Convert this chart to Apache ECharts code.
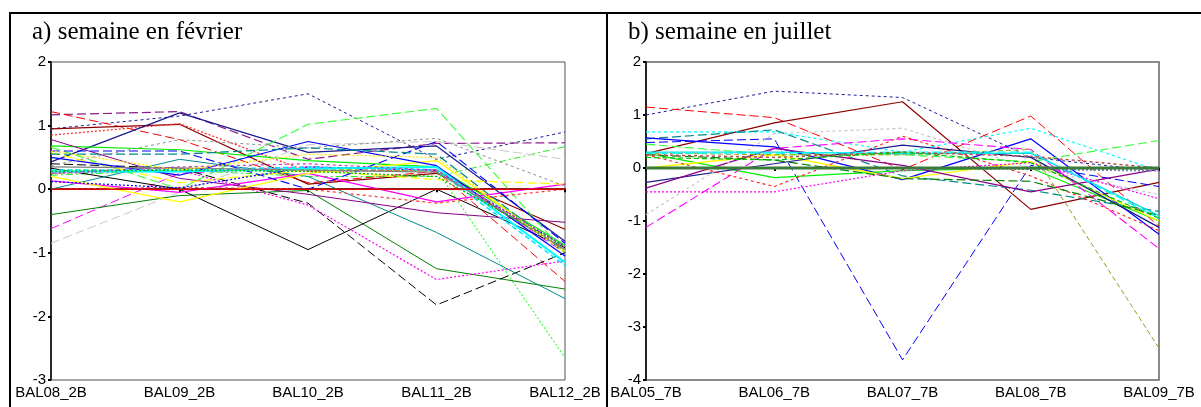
<!DOCTYPE html>
<html>
<head>
<meta charset="utf-8">
<script src="https://cdn.jsdelivr.net/npm/echarts@6/dist/echarts.min.js"></script>
<style>html,body{margin:0;padding:0;background:#fff;}#c{width:1201px;height:407px;}</style>
</head>
<body>
<div id="c"></div>
<script>
// ---- data ----
const titleA = 'a) semaine en février';
const titleB = 'b) semaine en juillet';
const categoriesA = ['BAL08_2B', 'BAL09_2B', 'BAL10_2B', 'BAL11_2B', 'BAL12_2B'];
const categoriesB = ['BAL05_7B', 'BAL06_7B', 'BAL07_7B', 'BAL08_7B', 'BAL09_7B'];
const yTicksA = [-3, -2, -1, 0, 1, 2];
const yTicksB = [-4, -3, -2, -1, 0, 1, 2];

// février: one row per station
const valuesA = [
  [0.95, 1.15, 1.5, 0.47, 0.9],
  [1.17, 1.22, 0.47, 0.72, 0.73],
  [1.22, 0.78, 0.1, 0.28, -1.45],
  [0.95, 1.02, 0.08, 0.25, -0.63],
  [0.85, 1.03, 0.28, 0.3, -0.95],
  [0.43, 1.2, 0.58, 0.68, -0.82],
  [0.68, 0.62, 0.45, 0.35, -0.88],
  [0.66, 0.0, 1.02, 1.27, -1.0],
  [0.3, 0.3, 0.28, 0.3, -2.65],
  [0.22, 0.3, 0.2, 0.2, 0.67],
  [-0.85, -0.05, 0.7, 0.75, 0.47],
  [-0.62, 0.25, 0.35, 0.3, -1.0],
  [-0.4, -0.1, -0.02, -1.25, -1.57],
  [0.33, 0.0, -0.95, 0.0, -0.92],
  [0.4, 0.33, -0.22, -1.82, -1.0],
  [0.25, 0.3, -0.25, -1.42, -1.13],
  [0.0, 0.47, 0.2, -0.68, -1.72],
  [0.78, 0.17, -0.08, -0.37, -0.52],
  [0.13, -0.05, 0.25, -0.2, 0.08],
  [0.0, 0.03, 0.0, -0.22, 0.0],
  [0.2, -0.2, 0.25, 0.45, -0.98],
  [0.57, 0.1, 0.3, 0.15, 0.08],
  [0.5, 0.22, 0.75, 0.37, -1.05],
  [0.12, 0.02, 0.35, 0.3, -0.9],
  [0.6, 0.6, 0.0, 0.75, -0.85],
  [0.55, 0.55, 0.65, 0.55, -1.0],
  [0.37, 0.78, 0.65, 0.8, 0.05],
  [0.25, 0.33, 0.3, 0.3, -0.95],
  [0.28, 0.28, 0.32, 0.35, -1.15],
  [0.3, 0.3, 0.35, 0.3, -1.2],
  [0.35, 0.33, 0.3, 0.27, -0.95],
  [0.28, 0.3, 0.28, 0.2, -0.9],
  [0.6, 0.3, 0.55, 0.5, -1.0],
  [0.25, 0.35, 0.4, 0.3, -0.9],
  [0, 0, 0, 0, 0]
];

// juillet
const valuesB = [
  [1.0, 1.45, 1.33, 0.2, -0.06],
  [1.15, 0.95, -0.03, 0.98, -1.1],
  [0.27, 0.85, 1.25, -0.78, -0.27],
  [0.68, 0.68, 0.3, 0.75, -0.05],
  [0.55, 0.72, -0.15, -0.42, -0.82],
  [0.48, 0.55, -3.62, 0.05, -0.35],
  [0.57, 0.4, -0.22, 0.55, -1.25],
  [0.28, -0.18, -0.05, 0.0, -1.0],
  [0.45, 0.25, 0.25, 0.12, 0.52],
  [0.0, 0.25, -0.2, 0.12, -1.0],
  [-0.27, 0.08, 0.43, 0.2, -1.12],
  [-0.38, 0.37, 0.05, -0.45, -0.02],
  [-0.88, 0.65, 0.75, 0.0, -0.5],
  [-1.12, 0.37, 0.55, 0.35, -1.52],
  [-0.45, -0.45, -0.05, 0.1, -0.58],
  [0.25, -0.35, 0.6, -0.15, -1.18],
  [0.28, 0.25, 0.25, 0.35, -3.4],
  [0.25, 0.15, -0.2, -0.25, -0.9],
  [0.3, 0.3, 0.27, 0.28, -0.9],
  [0.28, 0.28, 0.3, 0.3, -0.95],
  [0.25, 0.2, 0.3, 0.22, 0.0],
  [0.2, 0.15, 0.3, 0.1, -0.95],
  [0.0, 0.0, 0.0, -0.02, -0.05],
  [0, 0, 0, 0, 0]
];

// ---- styles (separate from data) ----
const LD = [9, 4], SD = [3, 3], DT = [2, 2], DD = [7, 3, 2, 3], MD = [5, 3];
const stylesA = [
  ['#1c1c9a', SD, 1], ['#8b1a8b', LD, 1.2], ['#ff0000', LD, 1], ['#8b0000', 'solid', 1.2],
  ['#ff3030', DT, 1.3], ['#1a1a8c', 'solid', 1.2], ['#00ee00', 'solid', 1.2], ['#33ff33', LD, 1.1],
  ['#33ff33', DT, 1.1], ['#22ee22', DD, 1], ['#c8c8c8', LD, 1], ['#ff00ff', LD, 1],
  ['#008000', 'solid', 1], ['#000000', 'solid', 1], ['#000000', LD, 1], ['#ff00ff', DT, 1.2],
  ['#008b8b', 'solid', 1], ['#8b008b', 'solid', 1], ['#ff00ff', 'solid', 1.2], ['#ff4040', SD, 1.3],
  ['#ffff00', 'solid', 1.3], ['#ffff00', LD, 1.3], ['#0000ff', 'solid', 1.2], ['#0000ff', DT, 1.2],
  ['#0000ff', LD, 1.1], ['#008b8b', LD, 1.3], ['#909090', SD, 1], ['#b08850', MD, 1.6],
  ['#00ffff', 'solid', 2], ['#00e5ff', MD, 1.5], ['#808080', 'solid', 1.2], ['#00bb00', DT, 1.3],
  ['#ffee00', DT, 1.3], ['#c040c0', SD, 1.2], ['#e00000', 'solid', 1.6]
];
const stylesB = [
  ['#1c1c9a', SD, 1], ['#ff0000', LD, 1], ['#8b0000', 'solid', 1.2], ['#00ffff', SD, 1.2],
  ['#008b8b', LD, 1.2], ['#0000ff', LD, 1], ['#0000ff', 'solid', 1.2], ['#00ee00', 'solid', 1.2],
  ['#33ff33', LD, 1.1], ['#ffff00', 'solid', 1.3], ['#1a1a8c', 'solid', 1.2], ['#8b008b', 'solid', 1.2],
  ['#c8c8c8', SD, 1.2], ['#ff00ff', LD, 1.1], ['#ff00ff', DT, 1.2], ['#ff2020', SD, 1.1],
  ['#9a9a20', MD, 1], ['#008000', LD, 1.2], ['#00e0e0', 'solid', 1.3], ['#00ffff', LD, 1.3],
  ['#b05050', SD, 1.5], ['#00c000', MD, 1.2], ['#7080a0', DT, 2], ['#3a7a3a', 'solid', 3]
];

const axisFont = { fontFamily: 'Liberation Sans, Arial, sans-serif', fontSize: 15, color: '#000' };
const titleFont = { fontFamily: 'Liberation Serif, Times New Roman, serif', fontSize: 25, fontWeight: 'normal', color: '#000' };

function makeSeries(values, styles, idx) {
  return values.map((row, i) => ({
    type: 'line', xAxisIndex: idx, yAxisIndex: idx, data: row, symbol: 'none',
    silent: true, z: 2 + (i === values.length - 1 ? 5 : 0),
    lineStyle: { color: styles[i][0], type: styles[i][1], width: styles[i][2] }
  }));
}

function xAx(cats, idx) {
  return {
    type: 'category', gridIndex: idx, data: cats, boundaryGap: false,
    axisLine: { lineStyle: { color: '#000', width: 1.5 } },
    axisTick: { length: 3, alignWithLabel: true, lineStyle: { color: '#000', width: 2 } },
    axisLabel: Object.assign({ margin: 5, interval: 0 }, axisFont),
    splitLine: { show: false }
  };
}
function yAx(ticks, idx) {
  return {
    type: 'value', gridIndex: idx, min: ticks[0], max: ticks[ticks.length - 1], interval: 1,
    axisLine: { show: true, lineStyle: { color: '#000', width: 1.5 } },
    axisTick: { show: true, length: 3, lineStyle: { color: '#000', width: 2 } },
    axisLabel: Object.assign({ margin: 5 }, axisFont),
    splitLine: { show: false }
  };
}

const chart = echarts.init(document.getElementById('c'), null, { renderer: 'canvas' });
chart.setOption({
  animation: false,
  backgroundColor: '#fff',
  title: [
    { text: titleA, left: 27, top: 15, textStyle: titleFont },
    { text: titleB, left: 623, top: 15, textStyle: titleFont }
  ],
  grid: [
    { left: 51, top: 62, width: 514, height: 318, show: true, borderColor: '#555', borderWidth: 1, backgroundColor: 'transparent' },
    { left: 646, top: 62, width: 513, height: 318, show: true, borderColor: '#666', borderWidth: 1.5, backgroundColor: 'transparent' }
  ],
  xAxis: [xAx(categoriesA, 0), xAx(categoriesB, 1)],
  yAxis: [yAx(yTicksA, 0), yAx(yTicksB, 1)],
  graphic: [
    { type: 'line', shape: { x1: 10, y1: 13, x2: 1201, y2: 13 }, style: { stroke: '#000', lineWidth: 2 } },
    { type: 'line', shape: { x1: 10, y1: 12, x2: 10, y2: 407 }, style: { stroke: '#000', lineWidth: 2 } },
    { type: 'line', shape: { x1: 607, y1: 12, x2: 607, y2: 407 }, style: { stroke: '#000', lineWidth: 2 } }
  ],
  series: makeSeries(valuesA, stylesA, 0).concat(makeSeries(valuesB, stylesB, 1))
});
</script>
</body>
</html>
